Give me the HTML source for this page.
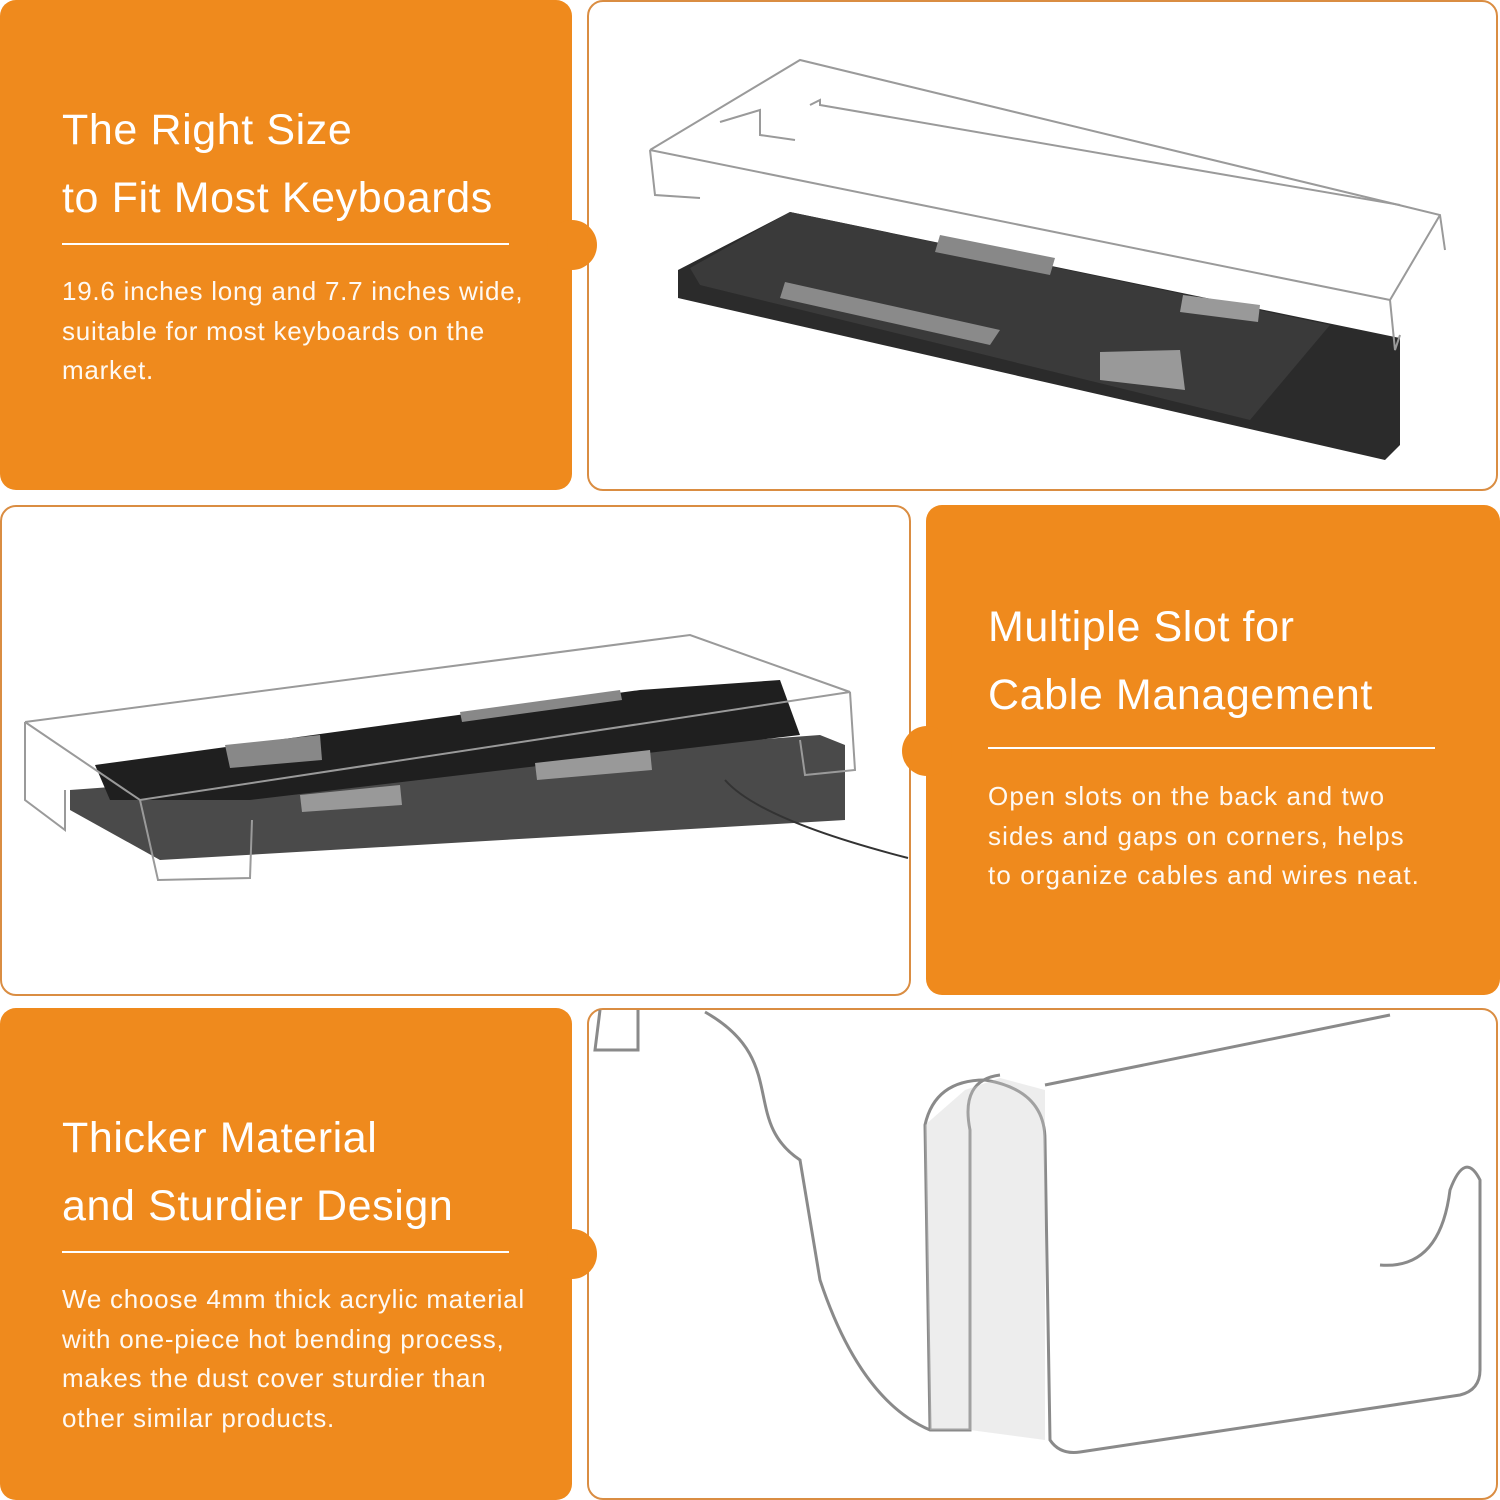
<!DOCTYPE html>
<html><head><meta charset="utf-8"><style>
*{margin:0;padding:0;box-sizing:border-box}
body{width:1500px;height:1500px;background:#fff;position:relative;overflow:hidden;font-family:"Liberation Sans",sans-serif}
.o{position:absolute;background:#EF8A1D;border-radius:16px}
.w{position:absolute;background:#fff;border:2px solid #DA8D42;border-radius:16px;overflow:hidden}
.bump{position:absolute;width:50px;height:50px;border-radius:50%;background:#EF8A1D;z-index:3}
.h{position:absolute;color:#fff;font-size:43px;line-height:68px;letter-spacing:0.6px}
.hr{position:absolute;height:2px;background:#fff}
.p{position:absolute;color:#fff;font-size:26px;line-height:39.5px;font-weight:300;letter-spacing:0.75px;opacity:0.95}
svg{position:absolute;left:0;top:0}
</style></head><body>
<div class="o" style="left:0;top:0;width:572px;height:490px"></div>
<div class="bump" style="left:547px;top:220px"></div>
<div class="h" style="left:62px;top:96px">The Right Size<br>to Fit Most Keyboards</div>
<div class="hr" style="left:62px;top:243px;width:447px"></div>
<div class="p" style="left:62px;top:272px">19.6 inches long and 7.7 inches wide,<br>suitable for most keyboards on the<br>market.</div>
<div class="w" style="left:587px;top:0;width:911px;height:491px"></div>

<div class="w" style="left:0;top:505px;width:911px;height:491px"></div>
<div class="o" style="left:926px;top:505px;width:574px;height:490px"></div>
<div class="bump" style="left:902px;top:726px"></div>
<div class="h" style="left:988px;top:593px">Multiple Slot for<br>Cable Management</div>
<div class="hr" style="left:988px;top:747px;width:447px"></div>
<div class="p" style="left:988px;top:777px;letter-spacing:1.1px">Open slots on the back and two<br>sides and gaps on corners, helps<br>to organize cables and wires neat.</div>

<div class="o" style="left:0;top:1008px;width:572px;height:492px"></div>
<div class="bump" style="left:547px;top:1229px"></div>
<div class="h" style="left:62px;top:1104px">Thicker Material<br>and Sturdier Design</div>
<div class="hr" style="left:62px;top:1251px;width:447px"></div>
<div class="p" style="left:62px;top:1280px">We choose 4mm thick acrylic material<br>with one-piece hot bending process,<br>makes the dust cover sturdier than<br>other similar products.</div>
<div class="w" style="left:587px;top:1008px;width:911px;height:492px"></div>

<svg width="1500" height="1500" viewBox="0 0 1500 1500" style="z-index:2">
<!-- keyboard 1 -->
<polygon points="678,270 790,212 1400,338 1400,445 1385,460 678,298" fill="#2b2b2b"/>
<polygon points="690,268 790,212 1330,325 1250,420 700,285" fill="#3a3a3a"/>
<polygon points="785,282 1000,330 990,345 780,298" fill="#8a8a8a"/>
<polygon points="940,235 1055,258 1050,275 935,252" fill="#888"/>
<polygon points="1100,352 1180,350 1185,390 1100,380" fill="#999"/>
<polygon points="1183,295 1260,305 1258,322 1180,312" fill="#999"/>
<!-- acrylic box 1 -->
<g fill="none" stroke="#9a9a9a" stroke-width="2">
<polyline points="650,150 800,60 1440,215 1445,250"/>
<polyline points="650,150 1390,300 1440,215"/>
<polyline points="650,150 655,195 700,198"/>
<polyline points="1390,300 1395,350 1400,335"/>
<polyline points="720,122 760,110 760,135 795,140"/>
<polyline points="810,105 820,100 820,105 1400,205"/>
</g>
<!-- keyboard 2 -->
<polygon points="70,790 820,735 845,745 845,820 160,860 70,810" fill="#4a4a4a"/>
<polygon points="95,765 640,690 780,680 800,735 250,800 110,800" fill="#1f1f1f"/>
<polygon points="460,712 620,690 622,700 462,722" fill="#888"/>
<polygon points="225,745 320,735 322,760 230,768" fill="#888"/>
<polygon points="300,795 400,785 402,805 302,812" fill="#999"/>
<polygon points="535,763 650,750 652,770 537,780" fill="#999"/>
<path d="M725,780 Q760,820 908,858" fill="none" stroke="#333" stroke-width="2"/>
<g fill="none" stroke="#9a9a9a" stroke-width="2">
<polyline points="25,722 690,635 850,692 140,800 25,722"/>
<polyline points="25,722 25,800 65,830 65,790"/>
<polyline points="140,800 158,880 250,878 252,820"/>
<polyline points="850,692 855,770 805,775 800,740"/>
</g>
<!-- acrylic panel 3 -->
<g fill="none" stroke="#8a8a8a" stroke-width="3">
<path d="M705,1012 C790,1060 740,1120 800,1160 L820,1280 Q860,1400 930,1430 L970,1430 L970,1130 Q960,1080 1000,1075"/>
<path d="M930,1430 L925,1125 Q935,1080 985,1080 Q1045,1090 1045,1140 L1050,1440 Q1060,1455 1080,1452 L1460,1395 Q1480,1390 1480,1370 L1480,1180 Q1465,1150 1450,1190 Q1440,1270 1380,1265"/>
<path d="M1045,1085 L1390,1015"/>
<path d="M600,1010 L595,1050 L638,1050 L638,1010"/>
</g>
<polygon points="925,1125 965,1090 1000,1078 1045,1090 1045,1440 970,1430 930,1430" fill="#ccc" opacity="0.35"/>
</svg>
</body></html>
